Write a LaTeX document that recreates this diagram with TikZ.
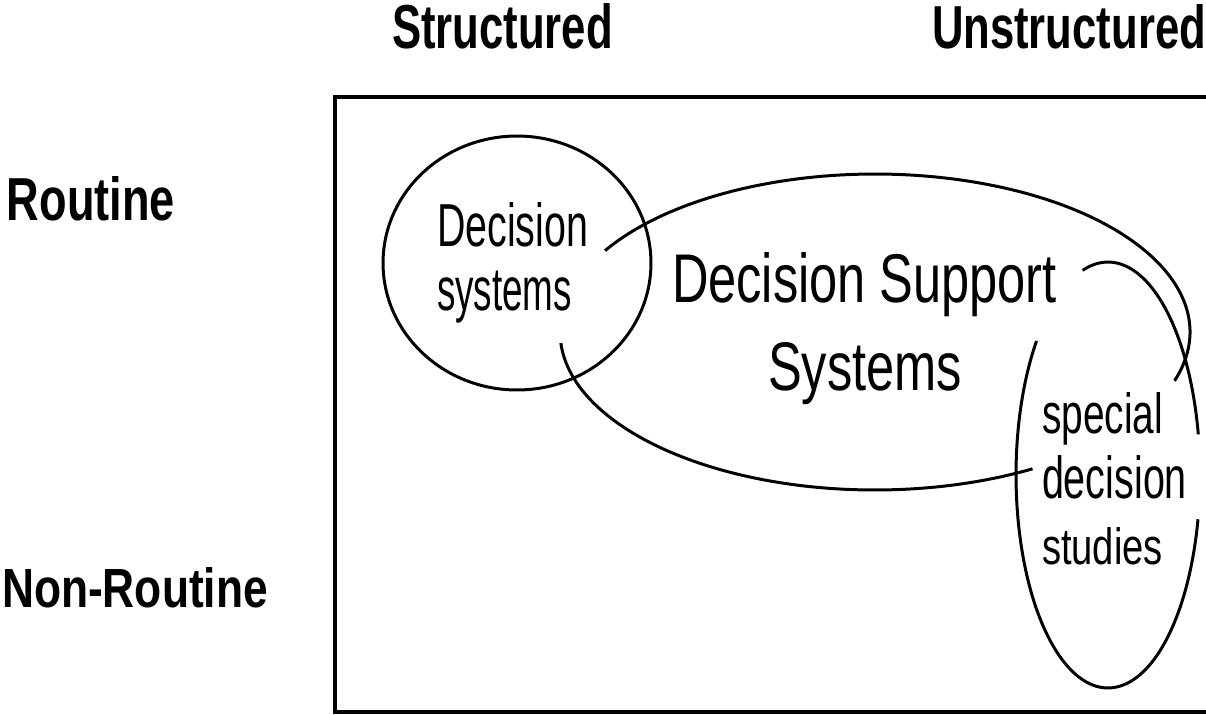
\documentclass[tikz,border=0pt]{standalone}
\usepackage{fontspec}
\setmainfont{Liberation Sans}
\usepackage{graphicx}
\usetikzlibrary{calc}
\newcommand\fitlbl[3]{\resizebox{#1}{#2}{\vphantom{D}#3}}
\tikzset{
  lbl/.style={anchor=base west, inner sep=0pt, outer sep=0pt},
  hdr/.style={lbl, font=\bfseries},
  curve/.style={line width=1.7pt},
  frame/.style={line width=2.8pt}
}
\begin{document}
\begin{tikzpicture}[x=0.02cm, y=-0.02cm]
\useasboundingbox (0,0) rectangle (1206,714);
% headers
\node[hdr] (structured) at (392,48) {\fitlbl{4.42cm}{0.90cm}{Structured}};
\node[hdr] (unstructured) at (932,48) {\fitlbl{5.48cm}{0.88cm}{Unstructured}};
\node[hdr] (routine) at (7,220) {\fitlbl{3.36cm}{0.88cm}{Routine}};
\node[hdr] (nonroutine) at (2,607) {\fitlbl{5.32cm}{0.80cm}{Non-Routine}};
% frame
\draw[frame] (1240,97) -- (335,97) -- (335,712) -- (1240,712);
% decision systems circle
\coordinate (dsc) at (517,263);
\draw[curve] (dsc) ellipse [x radius=2.68cm, y radius=2.54cm];
\node[lbl] (ds1) at (437,246) {\fitlbl{3.02cm}{0.88cm}{Decision}};
\node[lbl] (ds2) at (437,310) {\fitlbl{2.70cm}{0.84cm}{systems}};
% decision support systems ellipse
\coordinate (bigc) at (875,332);
\draw[curve] ($(bigc)+(-18:6.3cm and 3.16cm)$) arc[start angle=-18, end angle=149, x radius=6.3cm, y radius=3.16cm];
\draw[curve] ($(bigc)+(184:6.3cm and 3.16cm)$) arc[start angle=184, end angle=300, x radius=6.3cm, y radius=3.16cm];
\node[lbl] (dss1) at (672,302) {\fitlbl{7.70cm}{1.00cm}{Decision Support}};
\node[lbl] (dss2) at (768,390) {\fitlbl{3.88cm}{0.96cm}{Systems}};
% special decision studies ellipse
\coordinate (spc) at (1108,475);
\draw[curve] ($(spc)+(11:1.84cm and 4.26cm)$) arc[start angle=11, end angle=106, x radius=1.84cm, y radius=4.26cm];
\draw[curve] ($(spc)+(141:1.84cm and 4.26cm)$) arc[start angle=141, end angle=348, x radius=1.84cm, y radius=4.26cm];
\node[lbl] (sp1) at (1042,433) {\fitlbl{2.42cm}{0.82cm}{special}};
\node[lbl] (sp2) at (1042,498) {\fitlbl{2.90cm}{0.86cm}{decision}};
\node[lbl] (sp3) at (1042,564) {\fitlbl{2.42cm}{0.74cm}{studies}};
\end{tikzpicture}
\end{document}
